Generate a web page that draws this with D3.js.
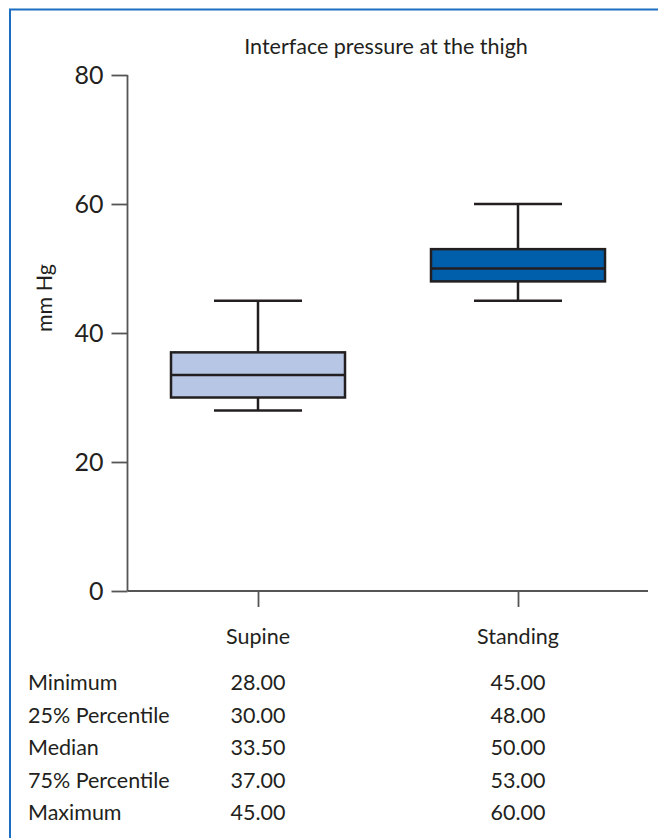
<!DOCTYPE html>
<html><head><meta charset="utf-8">
<script src="https://cdn.jsdelivr.net/npm/d3@7"></script>
<style>body{margin:0;background:#fff;}svg{display:block;} svg text{font-family:Lato,"Open Sans",sans-serif;}</style>
</head><body>
<script>
const categories = ["Supine", "Standing"];
const minimum = [28, 45];
const q1 = [30, 48];
const median = [33.5, 50];
const q3 = [37, 53];
const maximum = [45, 60];
const fills = ["#b7c6e4", "#005fab"];
const yTicks = [0, 20, 40, 60, 80];
const rowLabels = ["Minimum", "25% Percentile", "Median", "75% Percentile", "Maximum"];

const W = 658, H = 838;
const svg = d3.select("body").append("svg").attr("width", W).attr("height", H);
const ink = "#231f20";
const fs = "21.5px";

// frame
svg.append("path").attr("d", `M10,${H} V9.5 H${W}`).attr("fill","none").attr("stroke","#1b6ec2").attr("stroke-width",2);

const y = d3.scaleLinear().domain([0, 80]).range([591, 75]);
const x = d3.scalePoint().domain(categories).range([258, 518]);
const x0 = 127.5, x1 = 648;

// y axis
const ya = svg.append("g").attr("transform", `translate(${x0},0)`)
  .call(d3.axisLeft(y).tickValues(yTicks).tickSize(16).tickPadding(8));
ya.select(".domain").remove();
ya.selectAll(".tick line").attr("stroke","#555").attr("stroke-width",1.8);
ya.selectAll(".tick text").attr("fill", ink).attr("font-size", null).style("font-size","25px").style("font-family","Lato, sans-serif");
svg.append("line").attr("x1",x0).attr("x2",x0).attr("y1",y(80)).attr("y2",y(0)).attr("stroke","#555").attr("stroke-width",1.8);

// x axis
const xa = svg.append("g").attr("transform", `translate(0,${y(0)})`)
  .call(d3.axisBottom(x).tickSize(16).tickFormat(""));
xa.select(".domain").remove();
xa.selectAll(".tick line").attr("stroke","#555").attr("stroke-width",1.8);
svg.append("line").attr("x1",x0).attr("x2",x1).attr("y1",y(0)).attr("y2",y(0)).attr("stroke","#555").attr("stroke-width",1.8);

// title
svg.append("text").attr("x",386).attr("y",54).attr("text-anchor","middle")
  .attr("fill",ink).style("font-size",fs).text("Interface pressure at the thigh");
// y label
svg.append("text").attr("transform","translate(52,298) rotate(-90)").attr("text-anchor","middle")
  .attr("fill",ink).style("font-size",fs).style("font-family","Lato, sans-serif").attr("text-rendering","geometricPrecision").text("mm Hg");

// boxes
const boxW = 174, capW = 88;
const g = svg.append("g");
categories.forEach((c, i) => {
  const cx = x(c);
  g.append("line").attr("x1",cx).attr("x2",cx).attr("y1",y(maximum[i])).attr("y2",y(q3[i])).attr("stroke",ink).attr("stroke-width",2.5);
  g.append("line").attr("x1",cx).attr("x2",cx).attr("y1",y(q1[i])).attr("y2",y(minimum[i])).attr("stroke",ink).attr("stroke-width",2.5);
  g.append("line").attr("x1",cx-capW/2).attr("x2",cx+capW/2).attr("y1",y(maximum[i])).attr("y2",y(maximum[i])).attr("stroke",ink).attr("stroke-width",2.5);
  g.append("line").attr("x1",cx-capW/2).attr("x2",cx+capW/2).attr("y1",y(minimum[i])).attr("y2",y(minimum[i])).attr("stroke",ink).attr("stroke-width",2.5);
  g.append("rect").attr("x",cx-boxW/2).attr("width",boxW).attr("y",y(q3[i])).attr("height",y(q1[i])-y(q3[i]))
    .attr("fill",fills[i]).attr("stroke",ink).attr("stroke-width",2.5);
  g.append("line").attr("x1",cx-boxW/2).attr("x2",cx+boxW/2).attr("y1",y(median[i])).attr("y2",y(median[i])).attr("stroke",ink).attr("stroke-width",2.5);
  svg.append("text").attr("x",cx).attr("y",644).attr("text-anchor","middle").attr("fill",ink).style("font-size",fs).text(c);
});

// table
const series = [minimum, q1, median, q3, maximum];
const rowY = d3.scalePoint().domain(rowLabels).range([690, 820]);
rowLabels.forEach((lab, r) => {
  svg.append("text").attr("x",28).attr("y",rowY(lab)).attr("fill",ink).style("font-size",fs).text(lab);
  categories.forEach((c, i) => {
    svg.append("text").attr("x",x(c)).attr("y",rowY(lab)).attr("text-anchor","middle").attr("fill",ink)
      .style("font-size",fs).text(d3.format(".2f")(series[r][i]));
  });
});
</script>
</body></html>
